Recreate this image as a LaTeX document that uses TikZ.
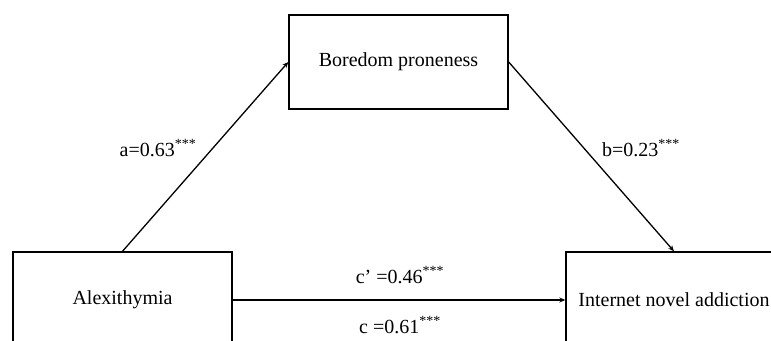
\documentclass[tikz,border=0pt]{standalone}
\usepackage{fontspec}
\setmainfont{Liberation Serif}
\usetikzlibrary{arrows.meta}
\begin{document}
\begin{tikzpicture}[x=1pt,y=-1pt,
  box/.style={draw,line width=1.4pt,rectangle,inner sep=0pt,font=\fontsize{20}{22}\selectfont},
  conn/.style={line width=1.3pt,-{Stealth[length=6pt,width=5pt]}},
  lbl/.style={font=\fontsize{20}{22}\selectfont,inner sep=0pt}]
\useasboundingbox (0,0) rectangle (771,340);
\clip (0,0) rectangle (771,340);
\node[box,minimum width=219pt,minimum height=96pt] (alex) at (122.5,300) {Alexithymia};
\node[box,minimum width=216pt,minimum height=96pt] (ina) at (674,300) {Internet novel addiction};
\node[box,minimum width=219pt,minimum height=94pt] (bp) at (398.5,62) {Boredom proneness};
\draw[conn] (alex.north) -- (bp.west);
\draw[conn] (bp.east) -- (ina.north);
\draw[conn] (alex.east) -- (ina.west);
\node[lbl] (la) at (158,148) {a=0.63\textsuperscript{***}};
\node[lbl] (lb) at (641,148) {b=0.23\textsuperscript{***}};
\node[lbl] (lc1) at (400,275) {c' =0.46\textsuperscript{***}};
\node[lbl] (lc) at (400,325) {c =0.61\textsuperscript{***}};
\end{tikzpicture}
\end{document}
